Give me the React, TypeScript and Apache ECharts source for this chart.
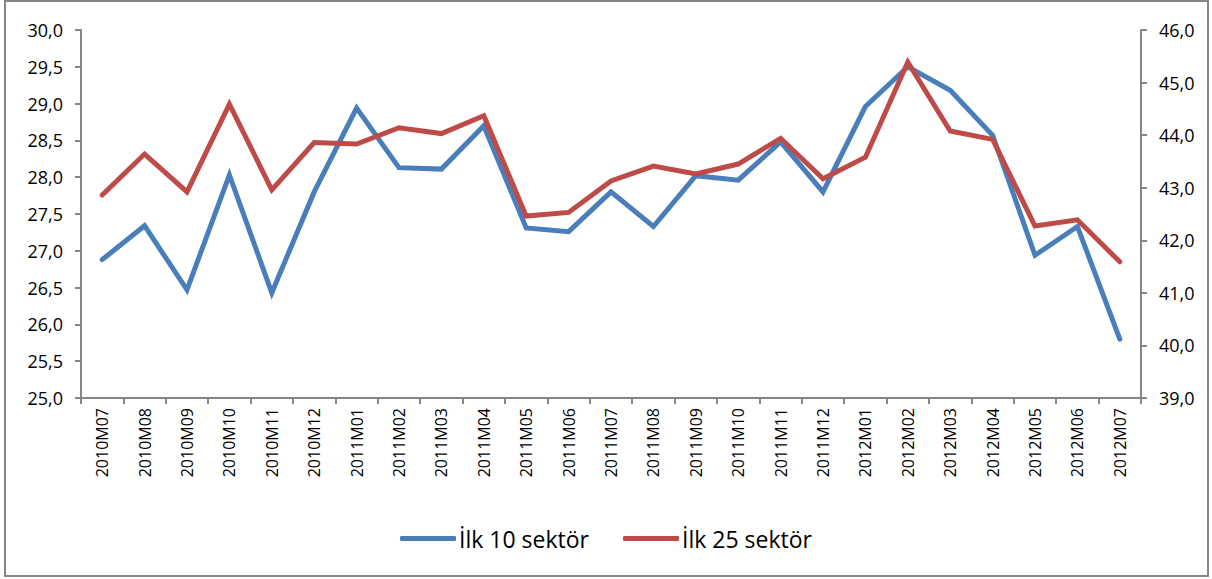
import React, { useEffect, useRef } from "react";
import * as echarts from "echarts";

const categories = [
  "2010M07", "2010M08", "2010M09", "2010M10", "2010M11", "2010M12",
  "2011M01", "2011M02", "2011M03", "2011M04", "2011M05", "2011M06",
  "2011M07", "2011M08", "2011M09", "2011M10", "2011M11", "2011M12",
  "2012M01", "2012M02", "2012M03", "2012M04", "2012M05", "2012M06", "2012M07",
];

const top10 = [
  26.88, 27.34, 26.47, 28.03, 26.43, 27.8,
  28.94, 28.13, 28.11, 28.7, 27.31, 27.26,
  27.8, 27.33, 28.02, 27.96, 28.48, 27.8,
  28.96, 29.5, 29.18, 28.57, 26.94, 27.33, 25.8,
];

const top25 = [
  42.86, 43.64, 42.92, 44.59, 42.96, 43.86,
  43.83, 44.14, 44.03, 44.37, 42.46, 42.53,
  43.13, 43.41, 43.26, 43.45, 43.94, 43.17,
  43.58, 45.39, 44.08, 43.92, 42.27, 42.39, 41.59,
];

const seriesNames = ["İlk 10 sektör", "İlk 25 sektör"];

const fmt = (v: number) => v.toFixed(1).replace(".", ",");

export default function App() {
  const ref = useRef<HTMLDivElement>(null);
  useEffect(() => {
    document.body.style.margin = "0";
    const chart = echarts.init(ref.current!, null, { renderer: "svg" });
    const font = "'Open Sans', 'Noto Sans', sans-serif";
    const axisLine = { show: true, lineStyle: { color: "#868686", width: 2 } };
    const tick = { show: true, length: 6, lineStyle: { color: "#868686", width: 2 } };
    chart.setOption({
      animation: false,
      backgroundColor: "#fff",
      textStyle: { fontFamily: font },
      graphic: [
        {
          type: "rect",
          shape: { x: 5, y: 1, width: 1203, height: 575 },
          style: { fill: "none", stroke: "#868686", lineWidth: 2 },
          silent: true,
        },
      ],
      grid: { left: 81, right: 71, top: 30, bottom: 181, containLabel: false },
      legend: {
        top: 522,
        left: "center",
        itemWidth: 56,
        itemHeight: 5,
        itemGap: 34,
        icon: "roundRect",
        textStyle: { fontSize: 23, color: "#000", fontFamily: font, padding: [0, 0, 0, -2] },
        data: seriesNames,
      },
      xAxis: {
        type: "category",
        data: categories,
        boundaryGap: true,
        axisLine,
        axisTick: tick,
        axisLabel: { rotate: 90, fontSize: 16, color: "#000", margin: 10, fontFamily: font },
        splitLine: { show: false },
      },
      yAxis: [
        {
          type: "value",
          min: 25,
          max: 30,
          interval: 0.5,
          position: "left",
          axisLine,
          axisTick: tick,
          axisLabel: { fontSize: 18, color: "#000", margin: 18, formatter: fmt, fontFamily: font },
          splitLine: { show: false },
        },
        {
          type: "value",
          min: 39,
          max: 46,
          interval: 1,
          position: "right",
          axisLine,
          axisTick: tick,
          axisLabel: { fontSize: 18, color: "#000", margin: 18, formatter: fmt, fontFamily: font },
          splitLine: { show: false },
        },
      ],
      series: [
        {
          name: seriesNames[0],
          type: "line",
          yAxisIndex: 0,
          data: top10,
          showSymbol: false,
          symbol: "none",
          lineStyle: { color: "#4A7EBB", width: 5, cap: "round", join: "miter" },
          itemStyle: { color: "#4A7EBB" },
        },
        {
          name: seriesNames[1],
          type: "line",
          yAxisIndex: 1,
          data: top25,
          showSymbol: false,
          symbol: "none",
          lineStyle: { color: "#BE4B48", width: 5, cap: "round", join: "miter" },
          itemStyle: { color: "#BE4B48" },
        },
      ],
    });
    return () => chart.dispose();
  }, []);
  return <div ref={ref} style={{ width: 1212, height: 579 }} />;
}
